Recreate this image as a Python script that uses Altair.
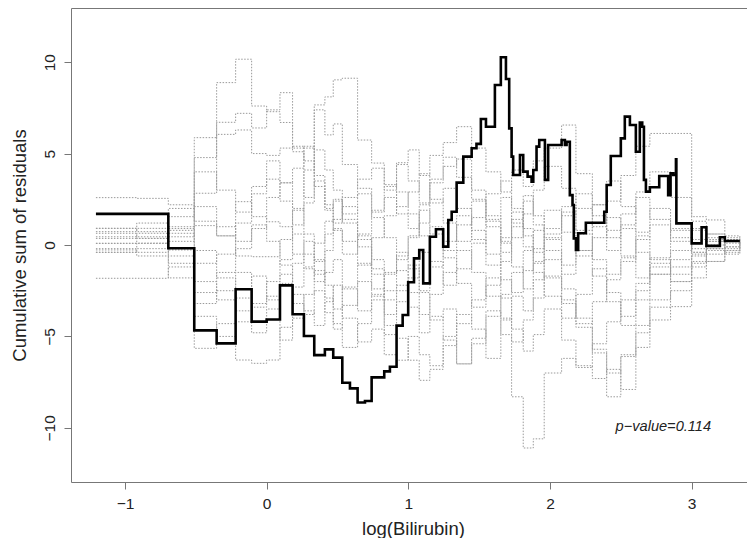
import altair as alt
import pandas as pd

# observed cumulative residual process (step starts and levels)
obs_x = [-1.205, -0.694, -0.511, -0.353, -0.219, -0.106, 0.000, 0.094, 0.183, 0.263,
         0.336, 0.411, 0.470, 0.534, 0.588, 0.642, 0.694, 0.741, 0.830, 0.870,
         0.917, 0.960, 0.999, 1.040, 1.077, 1.105, 1.152, 1.195, 1.246, 1.282,
         1.306, 1.341, 1.388, 1.447, 1.481, 1.512, 1.548, 1.611, 1.653, 1.689,
         1.712, 1.729, 1.740, 1.788, 1.811, 1.842, 1.870, 1.882, 1.905, 1.924,
         1.964, 1.987, 2.082, 2.105, 2.117, 2.140, 2.159, 2.168, 2.183, 2.199,
         2.253, 2.383, 2.400, 2.429, 2.500, 2.528, 2.564, 2.606, 2.634, 2.651,
         2.663, 2.677, 2.705, 2.771, 2.834, 2.851, 2.870, 2.889, 2.892, 3.000,
         3.070, 3.104, 3.199, 3.234, 3.340]
obs_y = [1.70, -0.18, -4.67, -5.38, -2.42, -4.19, -4.07, -2.21, -3.79, -4.98,
         -6.02, -5.71, -6.16, -7.53, -7.84, -8.61, -8.53, -7.24, -6.91, -6.66,
         -4.41, -3.83, -2.04, -0.73, -0.27, -2.10, 0.45, 0.86, -0.09, 1.37,
         1.82, 3.41, 4.83, 5.29, 5.53, 6.89, 6.47, 8.75, 10.27, 9.08,
         6.38, 4.83, 3.83, 4.92, 4.01, 3.74, 3.46, 4.10, 5.38, 5.74,
         3.56, 5.47, 5.74, 5.47, 5.65, 2.73, 2.19, 0.36, -0.27, 0.64,
         1.22, 1.82, 3.28, 4.87, 5.83, 7.02, 6.56, 5.10, 6.69, 6.47,
         3.56, 2.92, 3.16, 3.77, 2.73, 3.92, 3.83, 4.69, 1.18, 0.09,
         0.97, -0.05, 0.42, 0.22, 0.22]

# simulated processes, on a common grid of jump points
grid_x = [-1.205, -0.917, -0.694, -0.511, -0.353, -0.219, -0.106, 0.0, 0.094, 0.183,
          0.263, 0.336, 0.411, 0.47, 0.534, 0.642, 0.741, 0.83, 0.917, 0.999,
          1.077, 1.152, 1.246, 1.341, 1.447, 1.548, 1.653, 1.729, 1.811, 1.882,
          1.959, 2.082, 2.183, 2.299, 2.4, 2.5, 2.606, 2.705, 2.851, 3.0,
          3.104, 3.234, 3.34]
sim01 = [0.91, 0.73, 1.0, 5.87, 8.88, 10.16, 7.6, 7.29, 6.7, 5.1, 4.6, 3.2, 2.0, 2.5, 1.4, 0.3, -0.8, -1.5, -0.6, 0.4,
         1.2, 2.3, 3.1, 2.0, 0.8, -0.5, -1.9, -2.6, -1.4, -0.2, 0.9, 1.8, 0.6, -0.8, -1.6, -0.9, 0.3, 1.1, 0.4, -0.2,
         0.3, -0.1, 0.0]
sim02 = [0.36, 0.64, 0.45, 4.78, 6.71, 7.2, 6.4, 7.39, 8.33, 5.3, 5.4, 3.8, 1.9, 1.2, 2.1, 0.5, -1.6, -3.0, -2.2, -3.4,
         -4.8, -3.9, -5.2, -6.5, -5.1, -3.6, -4.9, -8.3, -11.1, -10.6, -7.0, -6.2, -6.7, -5.4, -4.2, -3.0, -2.1, -1.0, -1.6, -0.5,
         0.2, -0.3, -0.1]
sim03 = [0.09, 0.09, 1.55, 2.83, 6.05, 6.29, 5.0, 4.9, 5.3, 5.4, 2.6, 7.66, 8.1, 9.03, 9.12, 5.74, 4.48, 3.3, 2.1, 2.9,
         3.9, 2.5, 1.2, 0.2, 1.5, 2.8, 3.5, 2.0, 0.9, -0.4, -1.8, -3.2, -4.5, -5.9, -8.3, -6.1, -4.4, -3.0, -1.2, -0.6,
         0.0, 0.4, 0.1]
sim04 = [-0.4, -0.4, 0.2, 1.06, 0.5, 2.37, 1.55, 1.27, 1.0, -0.5, -1.3, -2.0, -1.5, -0.8, -2.4, -3.6, -2.7, -4.9, -6.3, -5.0,
         -6.0, -6.6, -5.0, -3.8, -4.6, -6.2, -4.1, -2.8, -3.6, -1.9, -0.8, -2.4, -4.0, -5.7, -7.0, -6.0, -4.8, -3.4, -3.37, -1.8,
         -0.9, -0.2, 0.1]
sim05 = [-1.82, -1.82, -1.2, -5.65, -4.3, -6.29, -6.47, -6.29, -4.5, -3.2, -3.8, -2.5, -3.7, -4.6, -3.3, -2.0, -2.8, -1.6, -0.4, -1.3,
         -2.6, -4.1, -3.5, -6.5, -5.4, -3.9, -2.7, -1.5, -0.3, 0.8, 1.9, 0.7, -0.6, 0.4, 1.5, 0.9, -0.4, -1.6, -0.8, 0.3,
         -0.2, 0.2, 0.0]
sim06 = [2.59, 2.55, 2.2, 1.3, 0.5, -0.6, -0.64, -0.64, 0.3, 1.9, 4.1, 7.39, 6.02, 6.62, 4.4, 3.1, 1.8, 2.6, 1.7, 0.9,
         2.2, 3.4, 4.3, 4.7, 3.0, 1.6, 0.2, 1.4, 2.7, 1.6, 0.4, -1.1, -0.3, 1.2, 2.4, 3.8, 5.4, 6.1, 6.1, 1.55,
         1.37, 0.5, -0.2]
sim07 = [0.73, 0.91, 0.64, -0.3, -1.8, -2.9, -1.7, -3.0, -2.1, -1.0, 0.2, -0.9, 0.6, 1.4, 2.6, 3.6, 4.2, 3.0, 4.5, 5.2,
         3.8, 4.9, 5.6, 6.47, 5.3, 4.0, 2.9, 4.1, 3.2, 4.6, 5.3, 6.56, 3.9, 2.2, 0.8, -0.6, -1.8, -0.7, 0.9, -0.4,
         0.6, 0.1, 0.1]
sim08 = [0.64, 0.36, -1.0, -3.2, -2.5, -1.5, -3.4, -2.8, -1.6, -2.7, -3.6, -4.4, -3.1, -2.2, -4.0, -5.3, -4.6, -6.0, -5.1, -6.3,
         -7.4, -6.8, -5.5, -4.3, -3.0, -1.8, -2.9, -4.6, -5.8, -4.9, -3.5, -5.2, -6.6, -7.3, -6.8, -7.9, -5.6, -4.1, -2.5, -1.2,
         -0.5, -0.3, -0.2]
sim09 = [0.09, 0.36, 0.8, 2.1, 1.0, 0.2, 0.9, 2.6, 3.4, 4.2, 5.3, 5.2, 4.1, 3.0, 1.7, 2.8, 1.5, 0.4, -0.8, 0.5,
         1.9, 0.6, -0.7, -2.1, -3.4, -2.2, -0.9, 0.4, 1.7, 3.0, 4.3, 3.1, 2.0, 1.0, -0.3, 1.1, 2.6, 1.4, 0.2, 0.8,
         -0.3, -0.5, 0.0]
sim10 = [-0.4, -0.2, -0.27, -2.0, -3.0, -4.2, -3.2, -2.0, -0.8, 0.6, -0.5, -1.6, -0.3, 0.9, 0.2, -1.1, 0.4, 1.6, 2.9, 1.7,
         0.5, -0.9, -2.2, -1.3, 0.1, 1.4, 2.6, 1.2, -0.1, -1.5, -2.8, -4.0, -2.7, -1.3, -2.6, -3.9, -2.5, -1.2, -2.0, -0.9,
         0.4, 0.3, 0.0]
sim11 = [0.45, 0.45, 0.9, -1.0, -0.5, 1.2, 2.8, 3.6, 2.4, 1.1, 2.3, 3.5, 2.2, 0.8, -0.5, 0.6, 1.9, 3.2, 4.4, 3.5,
         2.3, 3.6, 4.8, 3.7, 2.5, 1.3, 0.1, -1.2, -2.4, -1.0, 0.3, 1.6, 2.8, 1.6, 0.4, 1.7, 2.9, 4.0, 2.6, 1.3,
         0.6, 0.2, 0.0]
sim12 = [-0.2, 0.1, -0.6, -2.6, -1.5, -0.2, 1.1, 0.2, -1.1, -2.3, -1.2, 0.1, 1.3, 2.4, 1.2, -0.1, -1.3, -2.5, -1.4, -2.6,
         -3.8, -2.7, -1.5, -0.3, -1.5, -2.8, -4.0, -5.3, -4.1, -2.9, -1.7, -3.0, -4.3, -3.1, -1.9, -0.7, 0.5, -0.8, -2.0, -1.0,
         -0.2, 0.3, 0.1]
sim13 = [0.91, 1.2, 2.0, 4.0, 3.0, 1.8, 3.2, 4.6, 3.4, 2.0, 0.6, -0.8, -2.2, -3.5, -2.3, -1.0, -2.4, -3.8, -2.5, -1.1,
         -2.5, -1.2, 0.2, 1.6, 0.3, -1.1, 0.4, 1.8, 0.5, -0.9, 0.6, 2.1, 0.8, 2.2, 3.5, 2.1, 0.7, 2.0, 0.8, -0.4,
         -0.9, -0.1, 0.2]
sim14 = [-0.27, -0.6, -1.8, -3.9, -5.0, -3.6, -4.8, -3.5, -5.2, -4.0, -2.7, -1.4, -2.9, -4.3, -5.6, -4.3, -3.0, -4.4, -3.1, -1.8,
         -0.4, 1.0, -0.3, 1.1, 2.4, 1.0, -0.4, 1.0, 2.4, 1.1, -0.3, -1.6, -0.3, -1.7, -3.1, -4.4, -3.0, -1.6, -0.3, 0.9,
         0.2, -0.4, -0.1]

x_ticks = [-1, 0, 1, 2, 3]
y_ticks = [-10, -5, 0, 5, 10]
annot = [{"x": 2.80, "y": -9.95, "label": "p\u2212value=0.114"}]

sims = [sim01, sim02, sim03, sim04, sim05, sim06, sim07, sim08, sim09, sim10,
        sim11, sim12, sim13, sim14]
sim_rows = []
for k, s in enumerate(sims):
    for i, (gx, gy) in enumerate(zip(grid_x, s)):
        sim_rows.append({"x": gx, "y": gy, "sim": f"s{k+1}", "o": i})
df_sim = pd.DataFrame(sim_rows)
df_obs = pd.DataFrame({"x": obs_x, "y": obs_y, "o": list(range(len(obs_x)))})
df_txt = pd.DataFrame(annot)

FONT = "Liberation Sans"
xs = alt.Scale(domain=[-1.381, 3.447], nice=False, zero=False)
ys = alt.Scale(domain=[-12.96, 12.96], nice=False, zero=False)

xax = alt.Axis(values=x_ticks, format="d", title="log(Bilirubin)", grid=False, domain=False,
               tickColor="#777777", tickSize=7, tickWidth=1,
               labelFont=FONT, labelFontSize=15.5, labelColor="#222222", labelPadding=7.5,
               labelBaseline="top", labelAlign="center",
               titleFont=FONT, titleFontSize=18.5, titleFontWeight="normal", titleColor="#222222",
               titleBaseline="alphabetic", titleY=52)
yax = alt.Axis(values=y_ticks, format="d", title="Cumulative sum of residuals", grid=False, domain=False,
               tickColor="#777777", tickSize=7, tickWidth=1,
               labelFont=FONT, labelFontSize=15.5, labelColor="#222222", labelPadding=10,
               labelAngle=270, labelAlign="center", labelBaseline="alphabetic",
               titleFont=FONT, titleFontSize=18.5, titleFontWeight="normal", titleColor="#222222",
               titleAngle=270, titleBaseline="alphabetic", titleAlign="center", titleX=-46, titleY=237)

sim_layer = alt.Chart(df_sim).mark_line(
    interpolate="step-after", color="#9a9a9a", strokeWidth=1, strokeDash=[1.5, 1.5], clip=True
).encode(
    x=alt.X("x:Q", scale=xs, axis=xax),
    y=alt.Y("y:Q", scale=ys, axis=yax),
    detail="sim:N",
    order="o:Q",
)

obs_layer = alt.Chart(df_obs).mark_line(
    interpolate="step-after", color="#000000", strokeWidth=2.6, clip=True
).encode(
    x=alt.X("x:Q", scale=xs),
    y=alt.Y("y:Q", scale=ys),
    order="o:Q",
)

txt_layer = alt.Chart(df_txt).mark_text(
    font=FONT, fontSize=14.6, fontStyle="italic", color="#222222", align="center", baseline="middle"
).encode(
    x=alt.X("x:Q", scale=xs),
    y=alt.Y("y:Q", scale=ys),
    text="label:N",
)

chart = alt.layer(sim_layer, obs_layer, txt_layer).properties(
    width=684, height=474,
    autosize=alt.AutoSizeParams(type="none"),
    padding={"left": 63, "top": 0, "right": -8, "bottom": 56},
).configure_view(stroke="#777777", strokeWidth=1)

chart.save("out.html", embed_options={"renderer": "svg", "actions": False})
